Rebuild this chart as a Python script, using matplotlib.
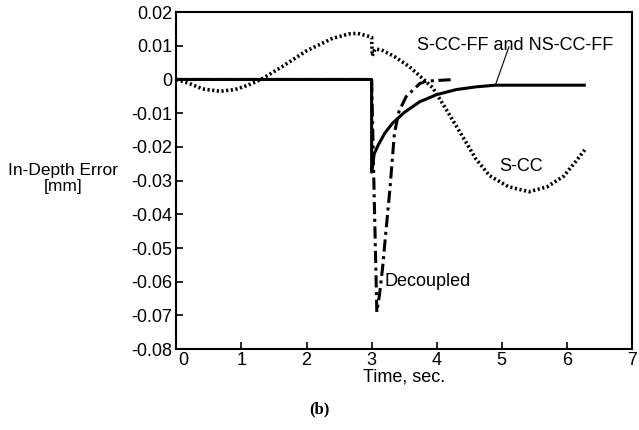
import matplotlib.pyplot as plt
import matplotlib.transforms as mtransforms

# S-CC response (dotted)
scc_t = [0, 0.2, 0.4, 0.67, 0.9, 1.1, 1.3, 1.6, 2.0, 2.4, 2.65, 2.78, 2.92, 3.0, 3.01,
         3.05, 3.15, 3.35, 3.58, 3.8, 3.94, 4.15, 4.4, 4.6, 4.81, 5.1, 5.42, 5.7, 5.95,
         6.15, 6.29]
scc_v = [0, -0.0012, -0.0028, -0.0035, -0.003, -0.0017, 0, 0.0035, 0.0085, 0.0122, 0.0135,
         0.0137, 0.013, 0.0125, 0.007, 0.009, 0.0088, 0.0068, 0.0038, 0.0, -0.0025, -0.009,
         -0.017, -0.0235, -0.0285, -0.0318, -0.0333, -0.0318, -0.0287, -0.024, -0.0205]

# S-CC-FF and NS-CC-FF (solid)
ff_t = [0, 3.0, 3.0, 3.04, 3.1, 3.2, 3.32, 3.5, 3.74, 4.0, 4.3, 4.6, 4.9, 6.29]
ff_v = [0, 0, -0.0275, -0.022, -0.0195, -0.016, -0.013, -0.0098, -0.0066, -0.0045,
        -0.003, -0.0022, -0.0017, -0.0017]

# Decoupled (dash-dot)
dec_t = [0, 3.0, 3.04, 3.08, 3.12, 3.17, 3.22, 3.28, 3.35, 3.42, 3.53, 3.74, 3.84, 4.28]
dec_v = [0, 0, -0.035, -0.069, -0.064, -0.0556, -0.045, -0.0328, -0.016, -0.0095,
         -0.0051, -0.0012, -0.0005, 0]

x_ticks = [0, 1, 2, 3, 4, 5, 6, 7]
y_ticks = [0.02, 0.01, 0, -0.01, -0.02, -0.03, -0.04, -0.05, -0.06, -0.07, -0.08]
y_labels = ['0.02', '0.01', '0', '-0.01', '-0.02', '-0.03', '-0.04', '-0.05',
            '-0.06', '-0.07', '-0.08']

plt.rcParams['font.family'] = ['Liberation Sans', 'DejaVu Sans']
plt.rcParams['font.size'] = 12.5

fig = plt.figure(figsize=(6.39, 4.30), dpi=100)
ax = fig.add_axes([0.276, 0.188, 0.713, 0.784])

ax.plot(ff_t, ff_v, color='black', lw=2.2, solid_capstyle='butt')
ax.plot(dec_t, dec_v, color='black', lw=2.2, linestyle=(0, (4, 1.5, 1, 1.5)))
ax.plot(scc_t, scc_v, color='black', lw=2.6, linestyle=(0, (0.6, 0.7)))

ax.set_xlim(0, 7)
ax.set_ylim(-0.08, 0.02)
ax.set_xticks(x_ticks)
ax.set_yticks(y_ticks)
ax.set_yticklabels(y_labels)
ax.tick_params(direction='in', length=5, width=1.2, labelsize=13, pad=2)
ax.tick_params(axis='y', pad=3)
for s in ax.spines.values():
    s.set_linewidth(1.5)

# nudge the x "0" label right so it clears "-0.08", as in the original
xlab0 = ax.get_xticklabels()[0]
xlab0.set_transform(xlab0.get_transform() +
                    mtransforms.ScaledTranslation(5 / 72, 0, fig.dpi_scale_trans))

ax.set_xlabel('Time, sec.', fontsize=13, labelpad=0)
fig.text(0.099, 0.585, 'In-Depth Error\n[mm]', ha='center', va='center', fontsize=12.5,
         linespacing=1.05)

ax.text(3.69, 0.0102, 'S-CC-FF and NS-CC-FF', fontsize=13, va='center')
ax.plot([5.11, 4.91], [0.0097, -0.0012], color='black', lw=0.8)
ax.text(4.96, -0.0259, 'S-CC', fontsize=13, va='center')
ax.text(3.2, -0.060, 'Decoupled', fontsize=13, va='center')

fig.text(0.5, 0.047, '(b)', ha='center', va='center', fontsize=12,
         family=['Liberation Serif'], weight='bold')

fig.savefig('out.png', dpi=100)
